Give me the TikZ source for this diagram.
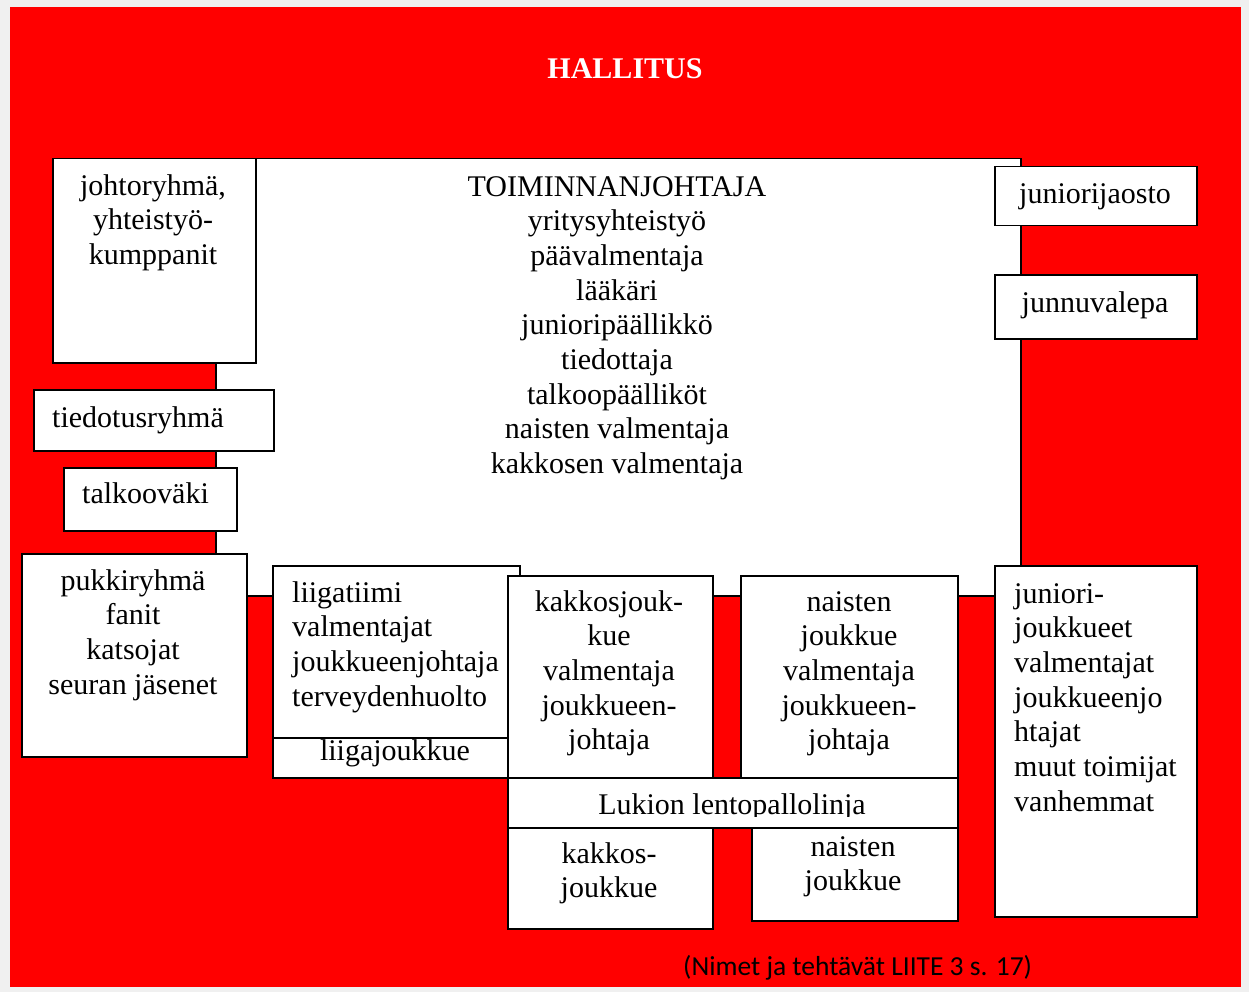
\documentclass[tikz,border=0pt]{standalone}
\usepackage{fontspec}
\setmainfont{Liberation Serif}
\newfontfamily\calib{Carlito}
\definecolor{bgred}{RGB}{255,0,0}
\definecolor{bggrey}{RGB}{240,240,240}
\begin{document}
\begin{tikzpicture}[x=1pt,y=-1pt,
  box/.style={draw=black, fill=white, line width=1.5pt, inner sep=0pt, anchor=north west},
  txt/.style={inner sep=0pt, font=\fontsize{30}{34.7}\selectfont},
  ctxt/.style={txt, align=center, anchor=base},
  ltxt/.style={txt, align=left, anchor=base west}]
\useasboundingbox (0,0) rectangle (1249,992);
\fill[bggrey] (0,0) rectangle (1249,992);
\fill[bgred] (10,7) rectangle (1241,987);
\node[inner sep=0pt, anchor=base, text=white, font=\fontsize{30}{34.7}\selectfont\bfseries] (hallitus) at (625,79) {HALLITUS};
% boxes
\node[box, minimum width=805pt, minimum height=437pt] (big) at (215,158) {};
\node[box, minimum width=203pt, minimum height=204pt] (johto) at (52,158) {};
\node[box, minimum width=240pt, minimum height=61pt] (tiedotus) at (33,389) {};
\node[box, minimum width=173pt, minimum height=63pt] (talkoo) at (63,467) {};
\node[box, minimum width=225pt, minimum height=203pt] (pukki) at (21,553) {};
\node[box, minimum width=247pt, minimum height=212pt] (liiga) at (272,565) {};
\node[box, minimum width=235pt, minimum height=40pt] (liigaj) at (272,737) {};
\node[box, minimum width=205pt, minimum height=202pt] (kakkos) at (507,575) {};
\node[box, minimum width=217pt, minimum height=202pt] (naiset) at (740,575) {};
\node[box, minimum width=450pt, minimum height=50pt] (lukio) at (507,777) {};
\node[box, minimum width=205pt, minimum height=101pt] (kakkos2) at (507,827) {};
\node[box, minimum width=206pt, minimum height=93pt] (naiset2) at (751,827) {};
\node[box, minimum width=202pt, minimum height=59pt] (jaosto) at (994,166) {};
\node[box, minimum width=202pt, minimum height=64pt] (valepa) at (994,274) {};
\node[box, minimum width=202pt, minimum height=351pt] (junior) at (994,565) {};
% texts (anchor = baseline of the last line)
\node[ctxt] (tbig) at (617,473.6) {TOIMINNANJOHTAJA\\yritysyhteistyö\\päävalmentaja\\lääkäri\\junioripäällikkö\\tiedottaja\\talkoopäälliköt\\naisten valmentaja\\kakkosen valmentaja};
\node[ctxt] (tjohto) at (153,264.4) {johtoryhmä,\\yhteistyö-\\kumppanit};
\node[ltxt] (ttiedotus) at (52,427) {tiedotusryhmä};
\node[ltxt] (ttalkoo) at (82,503) {talkooväki};
\node[ctxt] (tpukki) at (133,694.1) {pukkiryhmä\\fanit\\katsojat\\seuran jäsenet};
\node[ltxt] (tliiga) at (292,706.1) {liigatiimi\\valmentajat\\joukkueenjohtaja\\terveydenhuolto};
\node[ctxt] (tliigaj) at (395,760) {liigajoukkue};
\node[ctxt] (tkakkos) at (609,749.8) {kakkosjouk-\\kue\\valmentaja\\joukkueen-\\johtaja};
\node[ctxt] (tnaiset) at (849,749.8) {naisten\\joukkue\\valmentaja\\joukkueen-\\johtaja};
\begin{scope}
\clip (507,777) rectangle (957,816);
\node[ctxt] (tlukio) at (732,814) {Lukion lentopallolinja};
\end{scope}
\node[ctxt] (tkakkos2) at (609,897.7) {kakkos-\\joukkue};
\node[ctxt] (tnaiset2) at (853,890.7) {naisten\\joukkue};
\node[ctxt] (tjaosto) at (1095,204) {juniorijaosto};
\node[ctxt] (tvalepa) at (1095,312) {junnuvalepa};
\node[ltxt] (tjunior) at (1014,811.2) {juniori-\\joukkueet\\valmentajat\\joukkueenjo\\htajat\\muut toimijat\\vanhemmat};
\node[inner sep=0pt, anchor=base west, font=\calib\fontsize{27.5}{31}\selectfont] (note) at (683,975) {(Nimet ja tehtävät LIITE 3 s. 17)};
\end{tikzpicture}
\end{document}
